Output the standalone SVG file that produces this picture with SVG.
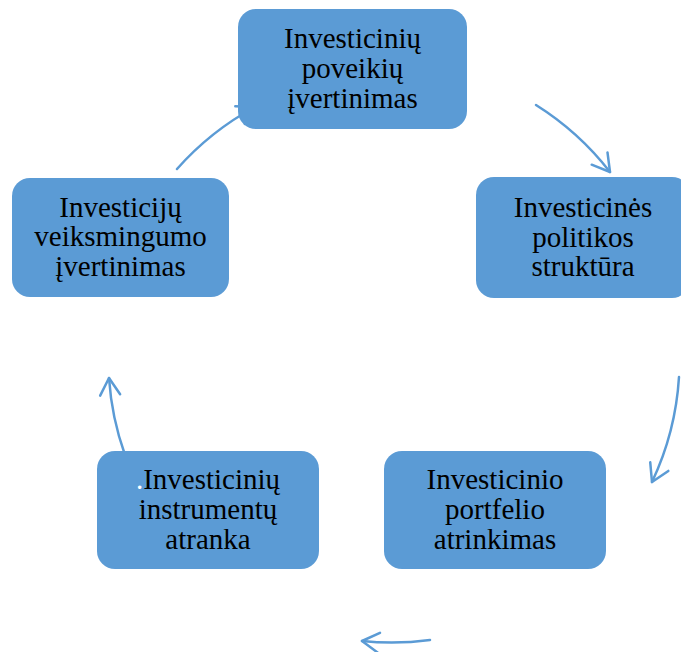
<svg xmlns="http://www.w3.org/2000/svg" width="681" height="652" viewBox="0 0 681 652">
<style>
.box{fill:#5B9BD5;}
.lbl{font-family:"Liberation Serif","Times New Roman",serif;font-size:29px;fill:#000;text-anchor:middle;}
.arc{fill:none;stroke:#5B9BD5;stroke-width:2.5;stroke-linecap:round;marker-end:url(#ah);}
</style>
<defs>
<marker id="ah" markerUnits="userSpaceOnUse" markerWidth="40" markerHeight="40" refX="0" refY="0" viewBox="-20 -20 40 40" orient="auto" overflow="visible">
<path d="M -17 -10 L 0 0 L -17 10" fill="none" stroke="#5B9BD5" stroke-width="2.5" stroke-linecap="round" stroke-linejoin="round"/>
</marker>
</defs>
<rect width="681" height="652" fill="#fff"/>
<g id="connectors">
<path class="arc" d="M 536 105 A 286 286 0 0 1 610 172"/>
<path class="arc" d="M 679 377 A 286 286 0 0 1 652 482"/>
<path class="arc" d="M 430 640 A 286 286 0 0 1 362 641"/>
<path class="arc" d="M 125 455 A 286 286 0 0 1 109 378"/>
<path class="arc" d="M 177 169 A 286 286 0 0 1 255 107"/>
</g>
<g id="node-poveikiu">
<rect class="box" x="238" y="9" width="229" height="120" rx="18"/>
<text class="lbl"><tspan x="352.5" y="48">Investicinių</tspan><tspan x="352.5" y="78">poveikių</tspan><tspan x="352.5" y="108">įvertinimas</tspan></text>
</g>
<g id="node-politikos">
<rect class="box" x="476" y="177" width="214" height="121" rx="18"/>
<text class="lbl"><tspan x="583" y="217">Investicinės</tspan><tspan x="583" y="247">politikos</tspan><tspan x="583" y="276">struktūra</tspan></text>
</g>
<g id="node-portfelio">
<rect class="box" x="384" y="451" width="222" height="118" rx="18"/>
<text class="lbl"><tspan x="495" y="489">Investicinio</tspan><tspan x="495" y="519">portfelio</tspan><tspan x="495" y="549">atrinkimas</tspan></text>
</g>
<g id="node-instrumentu">
<rect class="box" x="97" y="451" width="222" height="118" rx="18"/>
<text class="lbl"><tspan x="208" y="489"><tspan fill="#fff">.</tspan>Investicinių</tspan><tspan x="208" y="519">instrumentų</tspan><tspan x="208" y="549">atranka</tspan></text>
</g>
<g id="node-veiksmingumo">
<rect class="box" x="12" y="178" width="217" height="119" rx="18"/>
<text class="lbl"><tspan x="120.5" y="217">Investicijų</tspan><tspan x="120.5" y="246">veiksmingumo</tspan><tspan x="120.5" y="276">įvertinimas</tspan></text>
</g>
</svg>
